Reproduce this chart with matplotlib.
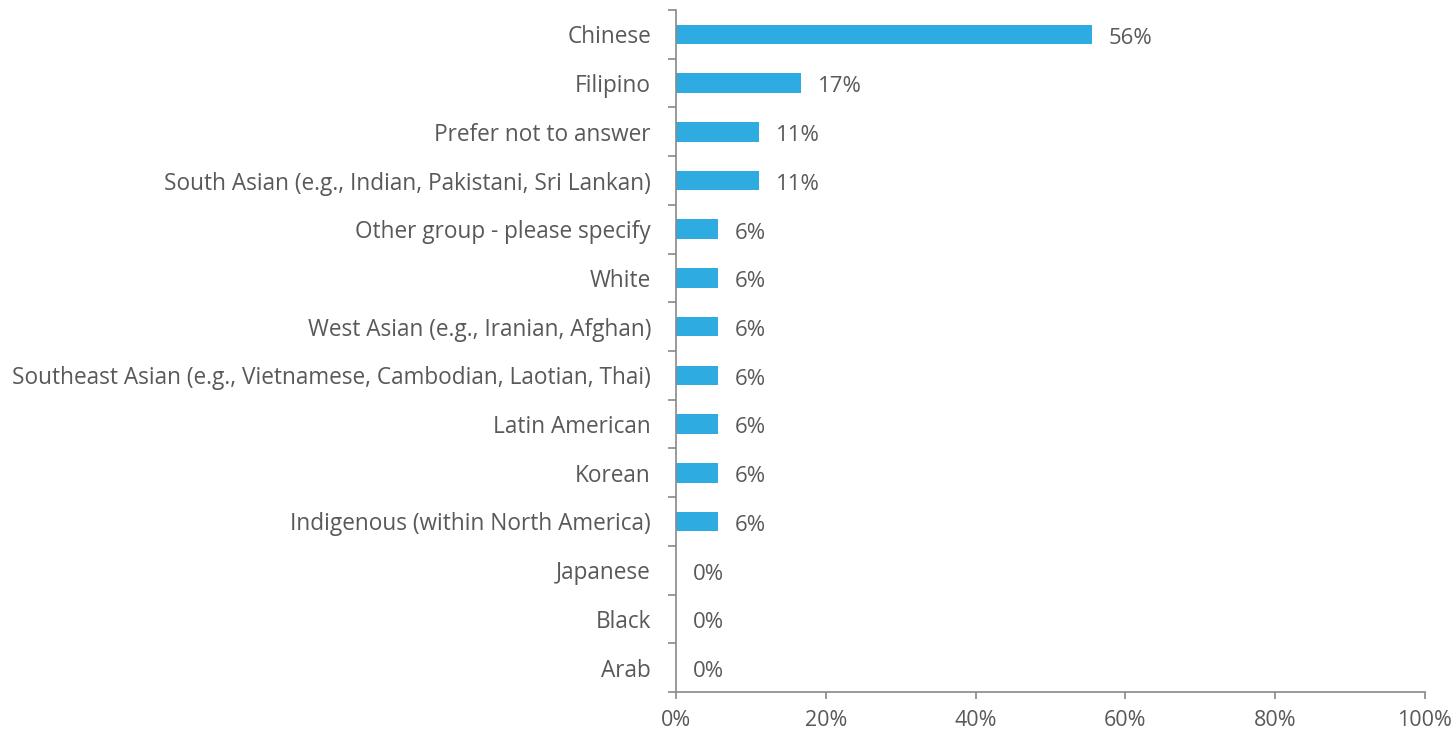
import matplotlib.pyplot as plt
import numpy as np

categories = ['Chinese', 'Filipino', 'Prefer not to answer',
              'South Asian (e.g., Indian, Pakistani, Sri Lankan)',
              'Other group - please specify', 'White',
              'West Asian (e.g., Iranian, Afghan)',
              'Southeast Asian (e.g., Vietnamese, Cambodian, Laotian, Thai)',
              'Latin American', 'Korean', 'Indigenous (within North America)',
              'Japanese', 'Black', 'Arab']
values = [55.6, 16.7, 11.1, 11.1, 5.6, 5.6, 5.6, 5.6, 5.6, 5.6, 5.6, 0, 0, 0]
xticks = [0, 20, 40, 60, 80, 100]

plt.rcParams['font.family'] = ['Open Sans', 'DejaVu Sans']
grey = '#595959'
axcol = '#898989'
fs = 16.3

fig = plt.figure(figsize=(14.54, 7.31), dpi=100)
ax = fig.add_axes([0.4649, 0.0534, 0.5151, 0.9329])

y = np.arange(len(categories))
ax.barh(y, values, height=0.4, color='#2EABE1')
for yi, v in zip(y, values):
    ax.text(v + 2.2, yi + 0.08, '%d%%' % round(v), va='center', ha='left',
            fontsize=16, color=grey)

ax.set_ylim(len(categories) - 0.5, -0.5)
ax.set_xlim(0, 100)
ax.set_yticks(y)
ax.set_yticklabels(categories, fontsize=fs, color=grey)
ax.set_yticks(np.arange(len(categories) + 1) - 0.5, minor=True)
ax.tick_params(axis='y', which='major', length=0, pad=18)
ax.tick_params(axis='y', which='minor', length=6, color=axcol, width=1.2)
ax.set_xticks(xticks)
ax.set_xticklabels(['%d%%' % t for t in xticks], fontsize=15.5, color=grey)
ax.tick_params(axis='x', length=5, color=axcol, width=1.2, pad=8)

for s in ['top', 'right']:
    ax.spines[s].set_visible(False)
for s in ['left', 'bottom']:
    ax.spines[s].set_color(axcol)
    ax.spines[s].set_linewidth(1.2)

plt.savefig('out.png', dpi=100)
